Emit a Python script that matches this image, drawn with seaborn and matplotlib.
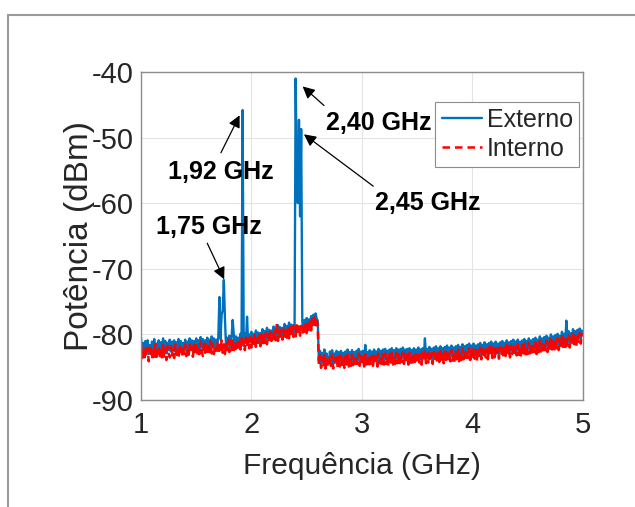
import numpy as np
import pandas as pd
import matplotlib
matplotlib.use("Agg")
import matplotlib.pyplot as plt
from matplotlib.lines import Line2D
import seaborn as sns

# Frequency grid (GHz), 10 MHz spacing from 1 to 5 GHz
freq_ghz = np.round(np.arange(1.00, 5.0001, 0.01), 2)

# Measured power, external antenna (dBm)
externo_dbm = [
    -80.4, -82.9, -81.3, -83.2, -81.0, -82.5, -80.9, -83.0, -81.6, -82.7,
    -81.1, -82.8, -80.7, -83.0, -81.4, -82.6, -80.9, -82.9, -81.2, -82.4,
    -80.6, -82.7, -81.0, -82.9, -81.3, -82.4, -80.8, -82.6, -81.1, -82.3,
    -80.9, -82.6, -81.2, -82.8, -80.7, -82.3, -81.0, -82.5, -81.3, -82.2,
    -80.8, -82.5, -81.1, -82.7, -80.6, -82.2, -80.9, -82.4, -81.0, -82.1,
    -80.6, -82.3, -80.9, -82.5, -80.4, -82.0, -80.7, -82.2, -80.9, -81.9,
    -80.5, -82.2, -80.8, -82.4, -80.3, -81.9, -80.6, -82.1, -80.8, -81.8,
    -80.4, -74.3, -80.7, -77.0, -76.3, -71.7, -77.6, -82.0, -80.5, -81.7,
    -80.2, -81.9, -80.5, -77.8, -80.0, -81.6, -80.3, -81.8, -80.5, -81.5,
    -79.9, -81.6, -45.8, -81.8, -79.8, -81.3, -77.3, -81.5, -80.0, -81.2,
    -79.6, -81.3, -79.9, -81.5, -79.4, -81.0, -79.7, -81.2, -79.8, -80.9,
    -79.2, -80.9, -79.5, -81.1, -79.0, -80.6, -79.3, -80.8, -79.4, -80.5,
    -78.8, -80.5, -79.1, -80.7, -78.6, -80.2, -78.9, -80.4, -79.0, -80.1,
    -78.4, -80.1, -78.7, -80.3, -78.2, -79.8, -78.5, -80.0, -78.6, -79.7,
    -41.0, -56.0, -60.0, -47.3, -62.0, -48.7, -78.0, -79.6, -77.8, -79.4,
    -77.5, -79.1, -77.7, -78.9, -77.2, -78.5, -77.0, -78.2, -76.8, -77.6,
    -78.0, -84.0, -82.5, -84.4, -82.8, -84.2, -82.3, -84.5, -82.9, -84.1,
    -84.3, -82.6, -84.1, -82.4, -84.5, -82.9, -84.0, -82.5, -84.3, -82.7,
    -84.2, -82.5, -84.1, -82.8, -84.4, -82.6, -83.9, -82.3, -84.2, -82.7,
    -84.1, -82.4, -84.0, -82.7, -84.3, -82.5, -83.8, -82.2, -84.1, -82.6,
    -84.0, -82.5, -84.2, -81.6, -83.9, -82.7, -84.3, -82.4, -83.8, -82.6,
    -84.1, -82.3, -83.9, -82.6, -84.2, -82.2, -83.7, -82.5, -84.0, -82.3,
    -83.9, -82.2, -83.8, -82.5, -84.1, -82.3, -83.6, -82.1, -83.9, -82.4,
    -83.8, -82.1, -83.7, -82.3, -84.0, -82.2, -83.5, -82.0, -83.8, -82.3,
    -83.7, -82.2, -83.9, -82.1, -83.6, -82.4, -84.0, -82.1, -83.5, -82.3,
    -83.7, -82.0, -83.6, -82.3, -83.9, -82.1, -83.4, -80.6, -83.7, -82.2,
    -83.6, -81.9, -83.5, -82.2, -83.8, -82.0, -83.3, -81.8, -83.6, -82.1,
    -83.5, -81.8, -83.4, -82.1, -83.7, -81.9, -83.2, -81.7, -83.5, -82.0,
    -83.4, -81.7, -83.3, -82.0, -83.6, -81.8, -83.1, -81.6, -83.4, -81.9,
    -83.2, -81.5, -83.1, -81.8, -83.4, -81.6, -82.9, -81.4, -83.2, -81.7,
    -83.1, -81.4, -83.0, -81.7, -83.3, -81.5, -82.8, -81.3, -83.1, -81.6,
    -82.9, -81.2, -82.8, -81.5, -83.1, -81.3, -82.6, -81.1, -82.9, -81.4,
    -82.8, -81.1, -82.7, -81.4, -83.0, -81.2, -82.5, -81.0, -82.8, -81.3,
    -82.6, -80.9, -82.5, -81.2, -82.8, -81.0, -82.3, -80.8, -82.6, -81.1,
    -82.5, -80.8, -82.4, -81.1, -82.7, -80.9, -82.2, -80.7, -82.5, -81.0,
    -82.3, -80.6, -82.2, -80.9, -82.5, -80.7, -82.0, -80.5, -82.3, -80.8,
    -82.0, -80.3, -81.9, -80.6, -82.2, -80.4, -81.7, -80.2, -82.0, -80.5,
    -81.7, -80.0, -81.6, -80.3, -81.9, -80.1, -81.4, -79.9, -81.7, -80.2,
    -81.3, -79.6, -81.2, -79.9, -81.5, -77.9, -81.0, -79.5, -81.3, -79.8,
    -80.9, -79.2, -80.8, -79.5, -81.1, -79.3, -80.6, -79.1, -80.7, -79.4,
    -79.6,
]

# Measured power, internal antenna (dBm)
interno_dbm = [
    -81.5, -83.6, -82.2, -84.0, -81.9, -83.3, -82.0, -84.1, -82.7, -81.6,
    -83.8, -82.1, -83.4, -81.5, -83.9, -82.4, -81.8, -83.7, -82.0, -83.5,
    -81.6, -83.6, -82.2, -83.9, -81.7, -82.9, -83.5, -81.8, -83.2, -82.1,
    -83.6, -81.5, -83.1, -82.0, -83.7, -81.6, -82.8, -83.4, -81.7, -83.0,
    -81.5, -83.3, -82.0, -83.6, -81.3, -82.9, -81.9, -83.4, -81.6, -83.1,
    -81.2, -83.2, -81.7, -83.0, -81.1, -82.6, -83.3, -81.4, -82.8, -81.5,
    -83.1, -81.3, -82.7, -81.0, -82.9, -81.4, -83.0, -81.6, -82.5, -81.2,
    -82.9, -81.1, -82.6, -80.9, -82.8, -81.5, -83.0, -81.2, -82.4, -80.8,
    -82.7, -81.0, -82.4, -80.7, -82.6, -81.3, -82.2, -80.8, -82.5, -81.1,
    -82.3, -80.6, -82.0, -80.9, -82.4, -80.5, -81.9, -80.7, -82.1, -80.4,
    -82.0, -80.3, -81.7, -80.1, -81.9, -80.6, -81.5, -80.2, -81.8, -80.0,
    -81.6, -79.9, -81.3, -79.8, -81.5, -80.0, -81.2, -79.6, -81.0, -79.7,
    -81.1, -79.5, -80.9, -78.2, -81.0, -79.4, -80.7, -79.3, -80.8, -79.2,
    -80.7, -79.0, -80.5, -79.1, -80.6, -78.9, -80.3, -78.8, -80.4, -78.7,
    -80.3, -78.6, -80.1, -78.5, -80.2, -78.7, -79.9, -78.3, -79.8, -78.4,
    -79.8, -78.2, -79.5, -78.0, -79.4, -77.7, -78.9, -77.4, -78.6, -77.3,
    -79.0, -84.6, -83.2, -85.1, -83.5, -84.9, -83.0, -85.2, -83.6, -84.8,
    -85.0, -83.3, -84.8, -83.1, -85.2, -83.6, -84.7, -83.2, -85.0, -83.4,
    -84.9, -83.2, -84.8, -83.5, -85.1, -83.3, -84.6, -83.0, -84.9, -83.4,
    -84.8, -83.1, -84.7, -83.4, -85.0, -83.2, -84.5, -82.9, -84.8, -83.3,
    -84.7, -83.2, -84.9, -83.0, -84.6, -83.4, -85.0, -83.1, -84.5, -83.3,
    -84.8, -83.0, -84.6, -83.3, -84.9, -82.9, -84.4, -83.2, -84.7, -83.0,
    -84.6, -82.9, -84.5, -83.2, -84.8, -83.0, -84.3, -82.8, -84.6, -83.1,
    -84.5, -82.8, -84.4, -83.0, -84.7, -82.9, -84.2, -82.7, -84.5, -83.0,
    -84.4, -82.9, -84.6, -82.8, -84.3, -83.1, -84.7, -82.8, -84.2, -83.0,
    -84.4, -82.7, -84.3, -83.0, -84.6, -82.8, -84.1, -82.6, -84.4, -82.9,
    -84.3, -82.6, -84.2, -82.9, -84.5, -82.7, -84.0, -82.5, -84.3, -82.8,
    -84.2, -82.5, -84.1, -82.8, -84.4, -82.6, -83.9, -82.4, -84.2, -82.7,
    -84.1, -82.4, -84.0, -82.7, -84.3, -82.5, -83.8, -82.3, -84.1, -82.6,
    -83.9, -82.2, -83.8, -82.5, -84.1, -82.3, -83.6, -82.1, -83.9, -82.4,
    -83.8, -82.1, -83.7, -82.4, -84.0, -82.2, -83.5, -82.0, -83.8, -82.3,
    -83.6, -81.9, -83.5, -82.2, -83.8, -82.0, -83.3, -81.8, -83.6, -82.1,
    -83.5, -81.8, -83.4, -82.1, -83.7, -81.9, -83.2, -81.7, -83.5, -82.0,
    -83.3, -81.6, -83.2, -81.9, -83.5, -81.7, -83.0, -81.5, -83.3, -81.8,
    -83.2, -81.5, -83.1, -81.8, -83.4, -81.6, -82.9, -81.4, -83.2, -81.7,
    -83.0, -81.3, -82.9, -81.6, -83.2, -81.4, -82.7, -81.2, -83.0, -81.5,
    -82.7, -81.0, -82.6, -81.3, -82.9, -81.1, -82.4, -80.9, -82.7, -81.2,
    -82.4, -80.7, -82.3, -81.0, -82.6, -80.8, -82.1, -80.6, -82.4, -80.9,
    -82.0, -80.3, -81.9, -80.6, -82.2, -80.4, -81.7, -80.2, -82.0, -80.5,
    -81.6, -79.9, -81.5, -80.2, -81.8, -80.0, -81.3, -79.8, -81.4, -79.9,
    -80.3,
]

series_names = ["Externo", "Interno"]
x_ticks = [1, 2, 3, 4, 5]
y_ticks = [-90, -80, -70, -60, -50, -40]

# Peak labels: text, text centre, arrow tail and arrow tip (GHz, dBm)
peak_labels = ["1,92 GHz", "1,75 GHz", "2,40 GHz", "2,45 GHz"]
peak_text = [(1.724, -55.2), (1.615, -63.6), (3.149, -47.7), (3.600, -59.9)]
arrow_tails = [(1.724, -52.3), (1.600, -66.1), (2.656, -45.1), (3.102, -57.4)]
arrow_tips = [(1.893, -46.6), (1.753, -71.6), (2.463, -42.2), (2.475, -49.5)]

df = pd.DataFrame({
    "freq": np.concatenate([freq_ghz, freq_ghz]),
    "power": np.concatenate([externo_dbm, interno_dbm]),
    "fonte": np.repeat(series_names, len(freq_ghz)),
})

sns.set_theme(style="white")
plt.rcParams["font.family"] = ["Liberation Sans", "DejaVu Sans"]
plt.rcParams["axes.unicode_minus"] = False

fig = plt.figure(figsize=(6.35, 5.07), dpi=100)
ax = fig.add_axes([0.222, 0.211, 0.696, 0.647])

blue = "#0072BD"
red = "#FF0000"
sns.lineplot(data=df[df.fonte == "Externo"], x="freq", y="power", ax=ax,
             color=blue, lw=1.7, estimator=None, sort=False, label="Externo")
sns.lineplot(data=df[df.fonte == "Interno"], x="freq", y="power", ax=ax,
             color=red, lw=1.8, ls=(0, (3.0, 2.0)), estimator=None,
             sort=False, label="Interno")

ax.set_xlim(1, 5)
ax.set_ylim(-90, -40)
ax.set_xticks(x_ticks)
ax.set_yticks(y_ticks)
ax.grid(True, color="#e3e3e3", lw=0.8)
ax.set_axisbelow(True)
for s in ax.spines.values():
    s.set_color("#8c8c8c")
    s.set_linewidth(1.0)
ax.tick_params(direction="in", length=4, width=0.8, color="#8c8c8c",
               labelsize=21, labelcolor="#262626")
ax.tick_params(axis="x", pad=8)
ax.tick_params(axis="y", pad=5)
ax.set_xlabel("Frequência (GHz)", fontsize=21.5, color="#262626", labelpad=9)
ax.set_ylabel("Potência (dBm)", fontsize=24, color="#262626", labelpad=-2)

for txt, pos in zip(peak_labels, peak_text):
    ax.text(pos[0], pos[1], txt, fontsize=18, fontweight="bold",
            ha="center", va="center", color="black")
for tail, tip in zip(arrow_tails, arrow_tips):
    ax.annotate("", xy=tip, xytext=tail,
                arrowprops=dict(arrowstyle="-|>", color="black", lw=0.9,
                                mutation_scale=18, shrinkA=0, shrinkB=0))

leg = ax.legend(loc="upper right", bbox_to_anchor=(0.991, 0.909),
                fontsize=18, frameon=True, fancybox=False,
                handlelength=1.6, handletextpad=0.2, borderpad=0.25,
                labelspacing=0.2, borderaxespad=0)
leg.get_frame().set_edgecolor("#8c8c8c")
leg.get_frame().set_linewidth(0.8)
leg.get_frame().set_facecolor("white")
leg.get_frame().set_alpha(1)

# Figure border along the top and left edges
fig.add_artist(Line2D([8 / 635, 1.0], [1 - 15 / 507, 1 - 15 / 507],
                      transform=fig.transFigure, color="#9a9a9a", lw=1.5))
fig.add_artist(Line2D([8 / 635, 8 / 635], [0.0, 1 - 15 / 507],
                      transform=fig.transFigure, color="#9a9a9a", lw=1.5))

fig.savefig("out.png", dpi=100, facecolor="white")
